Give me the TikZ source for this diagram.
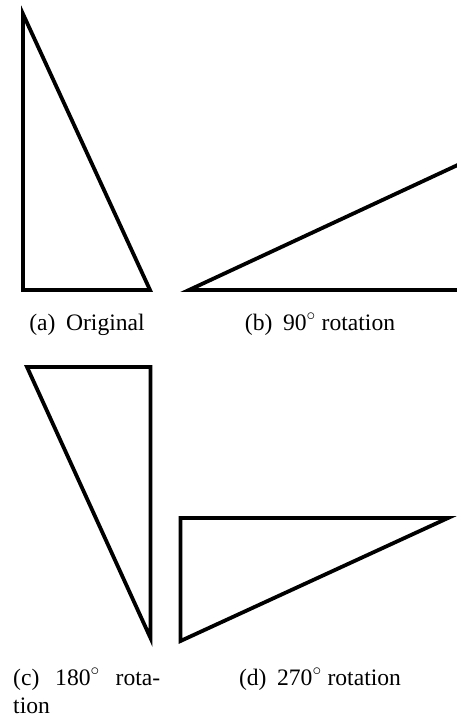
\documentclass[tikz,border=0pt]{standalone}
\usepackage{fontspec}
\setmainfont{Liberation Serif}
\begin{document}
\begin{tikzpicture}[x=1pt,y=-1pt,
  tri/.style={line width=3.8pt, line join=miter},
  captext/.style={font=\fontsize{23.6}{28}\selectfont, inner sep=0pt, anchor=base}]
\useasboundingbox (0,0) rectangle (457,718);
\begin{scope}
\clip (0,0) rectangle (457,718);
% (a) original
\coordinate (a1) at (23,14);
\coordinate (a2) at (23,290);
\coordinate (a3) at (150,290);
\draw[tri] (a1) -- (a2) -- (a3) -- cycle;
% (b) 90 rotation
\coordinate (b1) at (189,290);
\coordinate (b2) at (462,290);
\coordinate (b3) at (462,163);
\draw[tri] (b1) -- (b2) -- (b3) -- cycle;
% (c) 180 rotation
\coordinate (c1) at (27,367);
\coordinate (c2) at (150.5,367);
\coordinate (c3) at (150.5,638);
\draw[tri] (c1) -- (c2) -- (c3) -- cycle;
% (d) 270 rotation
\coordinate (d1) at (180.5,518);
\coordinate (d2) at (448,518);
\coordinate (d3) at (180.5,641);
\draw[tri] (d1) -- (d2) -- (d3) -- cycle;
\end{scope}
\node[captext] (capa) at (87,330) {(a)\hspace{0.45em}Original};
\node[captext] (capb) at (320,330) {(b)\hspace{0.45em}90$^\circ$ rotation};
\node[captext, anchor=base west, text width=147pt, align=left] (capc) at (13,685)
  {(c)\hfill 180$^\circ$\hfill rota-\\tion};
\node[captext] (capd) at (320,685) {(d)\hspace{0.45em}270$^\circ$ rotation};
\end{tikzpicture}
\end{document}
